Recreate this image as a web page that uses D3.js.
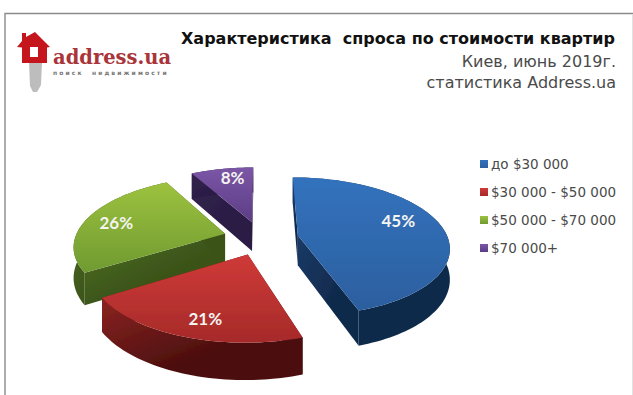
<!DOCTYPE html>
<html>
<head>
<meta charset="utf-8">
<script src="https://cdn.jsdelivr.net/npm/d3@7"></script>
<style>
  html, body { margin: 0; padding: 0; background: #fff; }
  svg { display: block; }
  text { font-family: "DejaVu Sans", "Noto Sans", sans-serif; white-space: pre; }
</style>
</head>
<body>
<svg id="chart" width="633" height="395"></svg>
<script>
const categories = ['до $30 000', '$30 000 - $50 000', '$50 000 - $70 000', '$70 000+']
const shares = [45, 21, 26, 8]
const topColors = [['#3272bd', '#2c5f9f'], ['#cf3a38', '#a62a29'], ['#9dc23f', '#6f9a30'], ['#7b56a6', '#5c3d85']]
const wallColors = [['#1b3a66', '#102a4c'], ['#8c2422', '#4c0f0e'], ['#4f6e25', '#3a5218'], ['#34264f', '#2a1c45']]
const titleLines = ['Киев, июнь 2019г.', 'статистика Address.ua']

const svg = d3.select('#chart')

// flat pie -> picture, with a bit of perspective //
const centerX = 261, centerY = 238
const radiusX = 150, radiusY = 68
const persp = 0.16
const explode = 0.25
const depth = 30

function project(u, v) {
    const s = 1 / (1 - persp * v)
    return [centerX + radiusX * u * s, centerY + radiusY * v * s, s]
}

const pie = d3.pie().sort(null).value(d => d)
const slices = pie(shares).map((d, i) => ({ ...d, i }))

const lineGen = d3.line()
const defs = svg.append('defs')

function gradient(id, colors, x2, y2) {
    const g = defs.append('linearGradient').attr('id', id)
        .attr('x1', 0).attr('y1', 0).attr('x2', x2).attr('y2', y2)
    g.append('stop').attr('offset', 0).attr('stop-color', colors[0])
    g.append('stop').attr('offset', 1).attr('stop-color', colors[1])
}
topColors.forEach((c, i) => gradient('top' + i, c, 0, 1))
wallColors.forEach((c, i) => gradient('wall' + i, c, 0.6, 0.6))

defs.append('filter').attr('id', 'soft').append('feGaussianBlur').attr('stdDeviation', 0.4)

// ground position of a point in a slice
function ground(d, r, a) {
    const mid = (d.startAngle + d.endAngle) / 2
    return [explode * Math.sin(mid) + r * Math.sin(a), -explode * Math.cos(mid) - r * Math.cos(a)]
}

function rimPoints(d) {
    const steps = Math.ceil((d.endAngle - d.startAngle) / 0.03)
    return d3.range(steps + 1).map(k => {
        const a = d.startAngle + (d.endAngle - d.startAngle) * k / steps
        const g = ground(d, 1, a)
        return project(g[0], g[1])
    })
}

const down = p => [p[0], p[1] + depth * p[2]]

function drawSlice(d) {
    const group = svg.append('g').attr('filter', 'url(#soft)')
    const c = ground(d, 0, 0)
    const apex = project(c[0], c[1])
    const rim = rimPoints(d)
    const outline = [apex, ...rim]

    // walls first, then the top covers what is hidden
    const wall = pts => group.append('path')
        .attr('d', lineGen(pts.map(p => [p[0], p[1]])) + 'Z')
        .attr('fill', 'url(#wall' + d.i + ')')

    wall([apex, rim[0], down(rim[0]), down(apex)])
    wall([apex, rim[rim.length - 1], down(rim[rim.length - 1]), down(apex)])
    wall([...rim, ...rim.slice().reverse().map(down)])

    group.append('path')
        .attr('d', lineGen(outline.map(p => [p[0], p[1]])) + 'Z')
        .attr('fill', 'url(#top' + d.i + ')')
}

// back to front
;[3, 2, 0, 1].forEach(i => drawSlice(slices[i]))

// value labels, with a small hand nudge per slice
const labelNudge = [[-3, -7], [2, 8], [-9, 1], [3, -4]]
const labelPos = d => {
    const mid = (d.startAngle + d.endAngle) / 2
    const g = ground(d, 0.72, mid)
    return project(g[0], g[1])
}
svg.append('g').selectAll('text')
    .data(slices)
    .join('text')
    .attr('x', d => labelPos(d)[0] + labelNudge[d.i][0])
    .attr('y', d => labelPos(d)[1] + 6 + labelNudge[d.i][1])
    .attr('text-anchor', 'middle')
    .attr('fill', '#f4f4f0')
    .style('font-family', 'Lato, sans-serif')
    .style('font-size', '17px')
    .style('font-weight', 700)
    .text(d => d.data + '%')

// legend //
const legendY = d3.scalePoint().domain(categories).range([164, 248])
const legend = svg.append('g').selectAll('g')
    .data(categories)
    .join('g')
    .attr('transform', d => `translate(478, ${legendY(d)})`)
legend.append('rect')
    .attr('x', 2).attr('y', -4).attr('width', 8).attr('height', 8)
    .attr('fill', (d, i) => `url(#top${i})`)
legend.append('text')
    .attr('x', 13).attr('y', 5)
    .attr('fill', '#4a4a4a')
    .style('font-size', '13.5px')
    .text(d => d)

// frame //
svg.append('path')
    .attr('d', 'M5 395V13.5H633')
    .attr('fill', 'none').attr('stroke', '#8a8a8a').attr('stroke-width', 1.4)
svg.append('path')
    .attr('d', 'M632.5 14V395')
    .attr('fill', 'none').attr('stroke', '#e2e2e2').attr('stroke-width', 1)

// titles //
svg.append('text')
    .attr('x', 615).attr('y', 44).attr('text-anchor', 'end')
    .attr('fill', '#111').style('font-size', '16px').style('font-weight', 700)
    .text('Характеристика  спроса по стоимости квартир')
svg.selectAll('.sub').data(titleLines).join('text')
    .attr('class', 'sub')
    .attr('x', 616).attr('y', (d, i) => 67 + i * 21).attr('text-anchor', 'end')
    .attr('fill', '#4a4a4a').style('font-size', '16px')
    .text(d => d)

// logo //
const logo = svg.append('g')
logo.append('path')
    .attr('d', 'M29 62H42L41 85L37 92H33L30 86Z')
    .attr('fill', '#bdbdbd')
logo.append('path')
    .attr('d', 'M35 32L50 47L47 47.5V63H22V47.5L17 47L22 41V33H26V37Z')
    .attr('fill', '#c4161c')
logo.append('rect').attr('x', 30).attr('y', 47).attr('width', 8).attr('height', 10)
    .attr('fill', '#fff')
logo.append('text')
    .attr('x', 53).attr('y', 64)
    .attr('fill', '#a9343a')
    .style('font-family', '"DejaVu Serif", serif').style('font-weight', 700).style('font-size', '19.5px')
    .text('address.ua')
logo.append('text')
    .attr('x', 53).attr('y', 74.5)
    .attr('fill', '#777')
    .style('font-size', '6px').style('font-weight', 700).style('letter-spacing', '2.1px')
    .text('поиск  недвижимости')
</script>
</body>
</html>
